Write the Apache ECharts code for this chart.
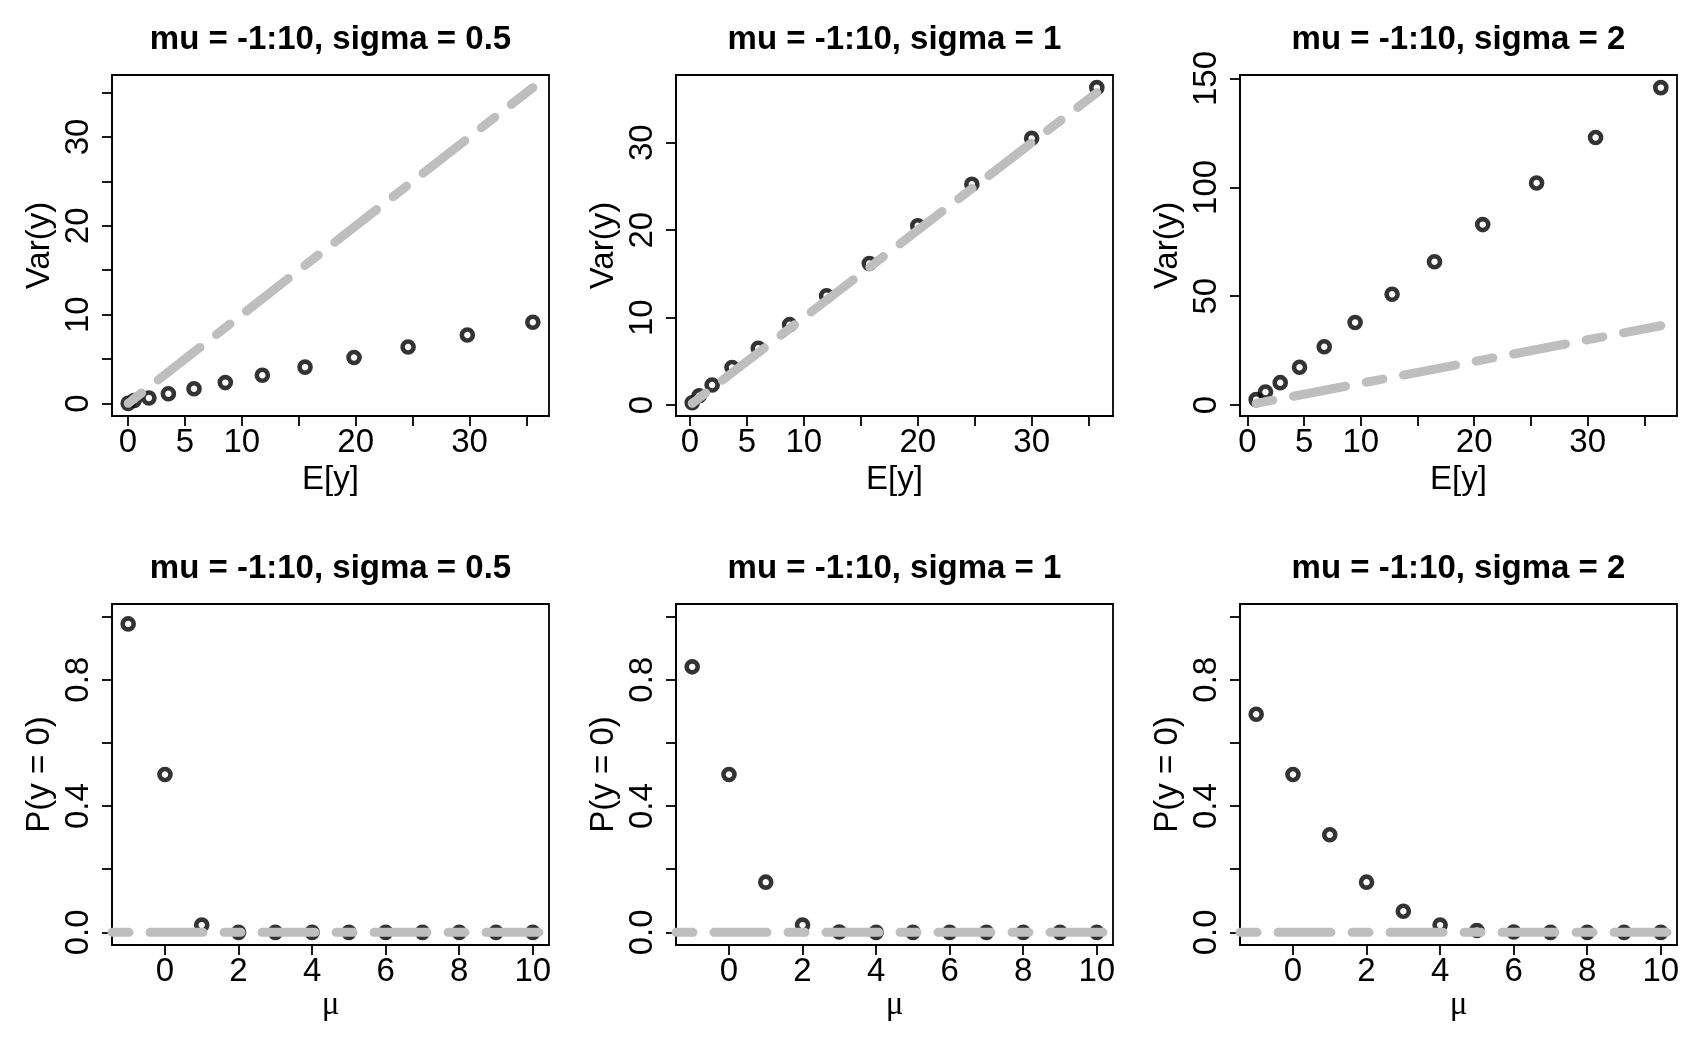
<!DOCTYPE html>
<html>
<head>
<meta charset="utf-8">
<title>mu = -1:10</title>
<script src="https://cdn.jsdelivr.net/npm/echarts@6/dist/echarts.min.js"></script>
<style>
  html, body { margin: 0; padding: 0; background: #fff; }
  #chart { width: 1692px; height: 1058px; }
</style>
</head>
<body>
<div id="chart"></div>
<script>
// values
const mu = [-1, 0, 1, 2, 3, 4, 5, 6, 7, 8, 9, 10]

const meanS05 = [0.02, 0.55, 1.84, 3.55, 5.8, 8.55, 11.8, 15.55, 19.85, 24.6, 29.8, 35.55]
const varS05 = [0.02, 0.35, 0.62, 1.1, 1.66, 2.36, 3.18, 4.1, 5.18, 6.37, 7.72, 9.15]
const meanS1 = [0.2, 0.81, 1.95, 3.7, 6.0, 8.75, 12.0, 15.75, 20.0, 24.75, 30.0, 35.72]
const varS1 = [0.27, 1.07, 2.3, 4.3, 6.5, 9.2, 12.5, 16.2, 20.5, 25.25, 30.5, 36.3]
const meanS2 = [0.78, 1.6, 2.9, 4.6, 6.78, 9.5, 12.76, 16.5, 20.75, 25.5, 30.7, 36.45]
const varS2 = [2.5, 6.0, 10.3, 17.4, 26.8, 37.9, 50.9, 65.8, 82.9, 102, 122.9, 145.8]

const p0S05 = [0.977, 0.5, 0.023, 0, 0, 0, 0, 0, 0, 0, 0, 0]
const p0S1 = [0.841, 0.5, 0.159, 0.023, 0.001, 0, 0, 0, 0, 0, 0, 0]
const p0S2 = [0.691, 0.5, 0.309, 0.159, 0.067, 0.023, 0.006, 0.001, 0, 0, 0, 0]

const titles = ['mu = -1:10, sigma = 0.5', 'mu = -1:10, sigma = 1', 'mu = -1:10, sigma = 2']

// tick marks and labels
const meanTicks = [0, 5, 10, 15, 20, 25, 30, 35]
const meanLabels = [0, 5, 10, 20, 30]
const varTicks = [
  [0, 5, 10, 15, 20, 25, 30, 35],
  [0, 10, 20, 30],
  [0, 50, 100, 150]
]
const varLabels = [
  [0, 10, 20, 30],
  [0, 10, 20, 30],
  [0, 50, 100, 150]
]
const muTicks = [0, 2, 4, 6, 8, 10]
const probTicks = [0, 0.2, 0.4, 0.6, 0.8, 1.0]
const probLabels = [0, 0.4, 0.8]

const FONT = '"Liberation Sans", Arial, sans-serif'
const panelW = 564
const panelH = 529
const box = { left: 112, top: 75, width: 437, height: 341 }

// R style axis range: data range padded by 4% on each side
function padRange (lo, hi) {
  const d = hi - lo
  return [lo - 0.04 * d, hi + 0.04 * d]
}

const dash = { color: '#bebebe', width: 9, type: [17, 21, 53, 21], cap: 'round' }
const circle = { color: 'rgba(0,0,0,0)', borderColor: '#000', borderWidth: 4.6 }

function axisBase (ticks, labels, fmt) {
  return {
    type: 'value',
    scale: true,
    splitLine: { show: false },
    axisLine: { show: true, onZero: false, lineStyle: { color: '#000', width: 1.8 } },
    axisTick: { show: true, inside: false, length: 10, customValues: ticks, lineStyle: { color: '#000', width: 1.8 } },
    axisLabel: {
      customValues: labels,
      color: '#000',
      fontSize: 33,
      margin: 10,
      fontFamily: FONT,
      formatter: fmt || (v => String(v))
    },
    nameLocation: 'middle',
    nameTextStyle: { color: '#000', fontSize: 33, fontFamily: FONT }
  }
}

const grids = []
const xAxes = []
const yAxes = []
const series = []
const graphics = []

const means = [meanS05, meanS1, meanS2]
const vars = [varS05, varS1, varS2]
const probs = [p0S05, p0S1, p0S2]

for (let i = 0; i < 6; i++) {
  const col = i % 3
  const row = Math.floor(i / 3)
  grids.push({
    left: box.left + col * panelW,
    top: box.top + row * panelH,
    width: box.width,
    height: box.height,
    show: true,
    borderColor: '#000',
    borderWidth: 1.8,
    backgroundColor: 'transparent'
  })
  graphics.push({
    type: 'text',
    x: box.left + col * panelW + box.width / 2,
    y: 40 + row * panelH,
    style: {
      text: titles[col],
      fontSize: 33,
      fontWeight: 'bold',
      fontFamily: FONT,
      fill: '#000',
      align: 'center',
      verticalAlign: 'middle'
    }
  })

  if (row === 0) {
    const e = means[col]
    const v = vars[col]
    const xr = padRange(Math.min(...e), Math.max(...e))
    const yr = padRange(Math.min(...e, ...v), Math.max(...e, ...v))
    xAxes.push(Object.assign(axisBase(meanTicks, meanLabels), {
      gridIndex: i, min: xr[0], max: xr[1], name: 'E[y]', nameGap: 47
    }))
    const ya = axisBase(varTicks[col], varLabels[col])
    ya.axisLabel.rotate = 90
    ya.axisLabel.margin = 17
    yAxes.push(Object.assign(ya, {
      gridIndex: i, min: yr[0], max: yr[1], name: 'Var(y)', nameGap: 56
    }))
    series.push({
      type: 'scatter',
      xAxisIndex: i,
      yAxisIndex: i,
      z: 2,
      symbol: 'circle',
      symbolSize: 11,
      itemStyle: circle,
      data: e.map((m, k) => [m, v[k]])
    })
    // reference line Var = E
    const eMin = Math.min(...e)
    const eMax = Math.max(...e)
    series.push({
      type: 'line',
      xAxisIndex: i,
      yAxisIndex: i,
      z: 3,
      symbol: 'none',
      lineStyle: dash,
      data: [[eMin, eMin], [eMax, eMax]]
    })
  } else {
    const p = probs[col]
    const xr = padRange(Math.min(...mu), Math.max(...mu))
    const yr = padRange(0, 1)
    const xa = axisBase(muTicks, muTicks)
    xa.nameTextStyle.fontFamily = '"Liberation Serif", "DejaVu Serif", serif'
    xAxes.push(Object.assign(xa, {
      gridIndex: i, min: xr[0], max: xr[1], name: 'μ', nameGap: 37
    }))
    const ya = axisBase(probTicks, probLabels, v => v.toFixed(1))
    ya.axisLabel.rotate = 90
    ya.axisLabel.margin = 17
    yAxes.push(Object.assign(ya, {
      gridIndex: i, min: yr[0], max: yr[1], name: 'P(y = 0)', nameGap: 56
    }))
    series.push({
      type: 'scatter',
      xAxisIndex: i,
      yAxisIndex: i,
      z: 2,
      symbol: 'circle',
      symbolSize: 11,
      itemStyle: circle,
      data: mu.map((m, k) => [m, p[k]])
    })
    // horizontal reference at zero across the whole panel
    series.push({
      type: 'line',
      xAxisIndex: i,
      yAxisIndex: i,
      z: 3,
      symbol: 'none',
      lineStyle: dash,
      data: [[xr[0], 0], [xr[1], 0]]
    })
  }
}

const myChart = echarts.init(document.getElementById('chart'), null, { renderer: 'canvas' })
myChart.setOption({
  backgroundColor: '#fff',
  animation: false,
  grid: grids,
  xAxis: xAxes,
  yAxis: yAxes,
  series: series,
  graphic: graphics
})
</script>
</body>
</html>
